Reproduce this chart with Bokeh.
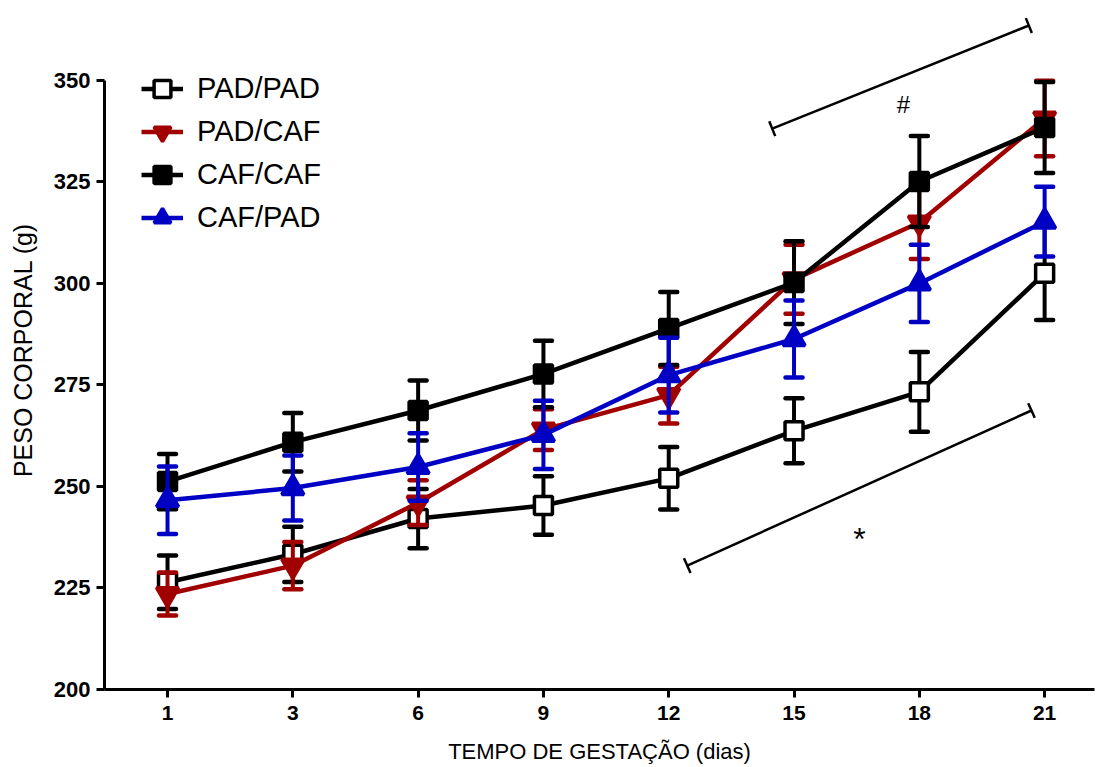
from bokeh.plotting import figure
from bokeh.models import (ColumnDataSource, FixedTicker, Range1d, Legend, LegendItem,
                          Arrow, TeeHead, Label)
from bokeh.embed import file_html
from bokeh.resources import INLINE

# Gestation days (categorical positions on the x axis)
days = ["1", "3", "6", "9", "12", "15", "18", "21"]

# Mean body weight (g) and SEM per group
pad_pad = [226.4, 233.3, 242.1, 245.3, 252.0, 263.7, 273.3, 302.5]
pad_pad_sem = [6.6, 6.8, 7.3, 7.2, 7.7, 8.0, 9.8, 11.5]

pad_caf = [223.5, 230.5, 246.0, 264.0, 272.5, 301.0, 315.0, 340.6]
pad_caf_sem = [5.3, 5.8, 5.5, 5.0, 7.0, 8.5, 9.0, 9.3]

caf_caf = [251.2, 260.9, 268.7, 277.7, 288.9, 300.2, 325.1, 338.4]
caf_caf_sem = [6.8, 7.2, 7.4, 8.2, 9.0, 10.2, 11.2, 11.2]

caf_pad = [246.6, 249.6, 254.8, 262.7, 277.4, 286.3, 300.0, 315.2]
caf_pad_sem = [8.3, 8.0, 8.3, 8.4, 9.2, 9.5, 9.5, 8.6]

y_ticks = [200, 225, 250, 275, 300, 325, 350]

# Significance brackets: (x0, y0, x1, y1) in day-index / grams, and their marks
bracket_hash = (4.826, 338.1, 6.874, 363.5)
bracket_star = (4.148, 230.5, 6.895, 268.7)
hash_pos = (5.874, 344.0)
star_pos = (5.523, 237.0)

FONT = "Liberation Sans"
RED = "#A00000"
BLUE = "#0000C4"
BLACK = "#000000"

p = figure(width=1096, height=767, output_backend="svg", toolbar_location=None,
           x_range=Range1d(-0.503, 7.398), y_range=Range1d(200, 367.2),
           min_border_left=104, min_border_right=2, min_border_top=10,
           min_border_bottom=78)
p.outline_line_color = None
p.grid.visible = False
p.background_fill_color = "white"
p.border_fill_color = "white"

x = list(range(len(days)))


def add_series(values, sem, color, marker, size, fill):
    src = ColumnDataSource(dict(
        x=x, y=values,
        upper=[v + s for v, s in zip(values, sem)],
        lower=[v - s for v, s in zip(values, sem)],
    ))
    line = p.line("x", "y", source=src, line_width=4.5, line_color=color)
    p.segment(x0="x", y0="lower", x1="x", y1="upper", source=src,
              line_width=4, line_color=color)
    for end in ("upper", "lower"):
        p.scatter("x", end, source=src, marker="dash", size=17,
                  line_width=4.5, line_color=color, line_cap="round")
    mk = p.scatter("x", "y", source=src, marker=marker, size=size,
                   fill_color=fill, line_color=color, line_width=3.5)
    return [line, mk]


r_pp = add_series(pad_pad, pad_pad_sem, BLACK, "square", 18, "white")
r_pc = add_series(pad_caf, pad_caf_sem, RED, "inverted_triangle", 22, RED)
r_cc = add_series(caf_caf, caf_caf_sem, BLACK, "square", 18, BLACK)
r_cp = add_series(caf_pad, caf_pad_sem, BLUE, "triangle", 22, BLUE)

legend = Legend(items=[
    LegendItem(label="PAD/PAD", renderers=r_pp),
    LegendItem(label="PAD/CAF", renderers=r_pc),
    LegendItem(label="CAF/CAF", renderers=r_cc),
    LegendItem(label="CAF/PAD", renderers=r_cp),
], location=(37, 450))
legend.border_line_color = None
legend.background_fill_alpha = 0
legend.padding = 0
legend.margin = 0
legend.spacing = 0
legend.glyph_width = 42
legend.glyph_height = 43
legend.label_height = 43
legend.label_standoff = 14
legend.label_text_font = FONT
legend.label_text_font_size = "29px"
legend.label_text_color = BLACK
p.add_layout(legend)

# Significance brackets
for (x0, y0, x1, y1) in (bracket_hash, bracket_star):
    p.add_layout(Arrow(x_start=x0, y_start=y0, x_end=x1, y_end=y1,
                       line_width=2.5, line_color=BLACK,
                       start=TeeHead(size=16, line_width=2.5, line_color=BLACK),
                       end=TeeHead(size=16, line_width=2.5, line_color=BLACK)))

p.add_layout(Label(x=hash_pos[0], y=hash_pos[1], text="#", text_font=FONT,
                   text_font_size="24px", text_align="center",
                   text_baseline="alphabetic", text_color=BLACK))
p.add_layout(Label(x=star_pos[0], y=star_pos[1], text="*", text_font=FONT,
                   text_font_size="32px", text_align="center",
                   text_baseline="alphabetic", text_color=BLACK))

# Axes
for ax in (p.xaxis[0], p.yaxis[0]):
    ax.axis_line_width = 3
    ax.axis_line_color = BLACK
    ax.major_tick_line_width = 3
    ax.major_tick_line_color = BLACK
    ax.major_tick_out = 8
    ax.major_tick_in = 0
    ax.minor_tick_line_color = None
    ax.major_label_text_font = FONT
    ax.major_label_text_font_style = "bold"
    ax.major_label_text_font_size = "21px"
    ax.major_label_text_color = BLACK
    ax.axis_label_text_font = FONT
    ax.axis_label_text_font_style = "normal"
    ax.axis_label_text_font_size = "22px"
    ax.axis_label_text_color = BLACK

p.xaxis.ticker = FixedTicker(ticks=x)
p.xaxis.major_label_overrides = {i: d for i, d in zip(x, days)}
p.xaxis.major_label_standoff = 8
p.xaxis.axis_label = "TEMPO DE GESTAÇÃO (dias)"
p.xaxis.axis_label_standoff = 16

p.yaxis.ticker = FixedTicker(ticks=y_ticks)
p.yaxis.bounds = (200, 350)
p.yaxis.major_label_standoff = 6
p.yaxis.major_label_text_font_size = "22px"
p.yaxis.axis_label = "PESO CORPORAL (g)"
p.yaxis.axis_label_text_font_size = "25px"
p.yaxis.axis_label_standoff = 14

open("out.html", "w").write(file_html(p, INLINE))
